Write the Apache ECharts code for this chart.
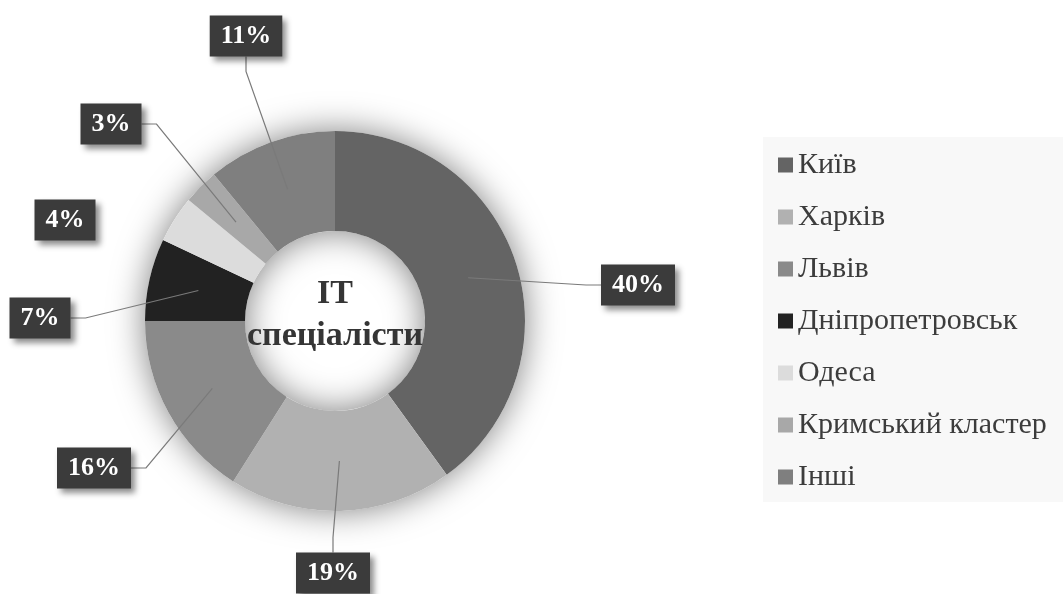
<!DOCTYPE html>
<html>
<head>
<meta charset="utf-8">
<title>IT спеціалісти</title>
<script src="https://cdn.jsdelivr.net/npm/echarts@6/dist/echarts.min.js"></script>
<style>
  html, body { margin: 0; padding: 0; background: #ffffff; }
  #chart { width: 1063px; height: 594px; }
</style>
</head>
<body>
<div id="chart"></div>
<script>
// Regions and their share of IT specialists (%)
const regions = ['Київ', 'Харків', 'Львів', 'Дніпропетровськ', 'Одеса', 'Кримський кластер', 'Інші'];
const shares = [40, 19, 16, 7, 4, 3, 11];
const sliceColors = ['#646464', '#b1b1b1', '#8a8a8a', '#222222', '#dcdcdc', '#a8a8a8', '#7f7f7f'];
const centerTitle = 'IT\nспеціалісти';

// Where each percentage badge sits (pixel centre of the badge)
const badgeSpots = [[638, 285], [333, 573], [94, 468], [40, 318], [65, 220], [111, 124], [246, 36]];
// The 4% badge has no leader line
const leaderShown = [true, true, true, true, false, true, true];

const serif = '"Liberation Serif", "Times New Roman", serif';
const center = [335, 321];

const chart = echarts.init(document.getElementById('chart'), null, { renderer: 'canvas' });

const ringData = regions.map((name, i) => ({
  name: name,
  value: shares[i],
  itemStyle: { color: sliceColors[i] }
}));

const badgeData = regions.map((name, i) => ({
  name: name,
  value: shares[i],
  labelLine: { show: leaderShown[i] }
}));

chart.setOption({
  backgroundColor: '#ffffff',
  animation: false,
  textStyle: { fontFamily: serif },
  legend: {
    orient: 'vertical',
    left: 763,
    top: 137,
    data: regions,
    icon: 'rect',
    itemWidth: 15,
    itemHeight: 15,
    itemGap: 22,
    backgroundColor: '#f8f8f8',
    padding: [13, 20, 10, 15],
    selectedMode: false,
    textStyle: {
      fontFamily: serif,
      fontSize: 30,
      color: '#3c3c3c'
    }
  },
  graphic: [{
    type: 'text',
    x: center[0],
    y: center[1] - 6,
    z: 10,
    style: {
      text: centerTitle,
      fontFamily: serif,
      fontWeight: 'bold',
      fontSize: 34,
      lineHeight: 42,
      fill: '#353535',
      align: 'center',
      verticalAlign: 'middle'
    }
  }],
  series: [
    {
      // soft shadow behind the whole ring
      type: 'pie',
      center: center,
      radius: [90, 190],
      silent: true,
      z: 1,
      label: { show: false },
      labelLine: { show: false },
      itemStyle: {
        color: '#ffffff',
        shadowColor: 'rgba(0,0,0,0.5)',
        shadowBlur: 34
      },
      data: [{ value: 1, name: '' }]
    },
    {
      type: 'pie',
      center: center,
      radius: [90, 190],
      startAngle: 90,
      clockwise: true,
      z: 2,
      silent: true,
      avoidLabelOverlap: false,
      label: { show: false },
      labelLine: { show: false },
      itemStyle: { borderWidth: 0 },
      data: ringData
    },
    {
      // invisible inner carrier so leader lines start mid-ring
      type: 'pie',
      center: center,
      radius: [0, 140],
      startAngle: 90,
      clockwise: true,
      z: 3,
      silent: true,
      avoidLabelOverlap: false,
      itemStyle: { color: 'rgba(0,0,0,0)', borderWidth: 0 },
      label: {
        show: true,
        position: 'outside',
        formatter: '{c}%',
        fontFamily: serif,
        fontWeight: 'bold',
        fontSize: 26,
        color: '#ffffff',
        backgroundColor: '#3b3b3b',
        padding: [8, 11, 7, 11],
        shadowColor: 'rgba(0,0,0,0.45)',
        shadowBlur: 6,
        shadowOffsetX: 4,
        shadowOffsetY: 4
      },
      labelLine: {
        show: true,
        length: 10,
        length2: 15,
        smooth: false,
        lineStyle: { color: '#7a7a7a', width: 1.2 }
      },
      labelLayout: function (params) {
        const spot = badgeSpots[params.dataIndex];
        return {
          x: spot[0],
          y: spot[1],
          align: 'center',
          verticalAlign: 'middle'
        };
      },
      data: badgeData
    }
  ]
});
</script>
</body>
</html>
